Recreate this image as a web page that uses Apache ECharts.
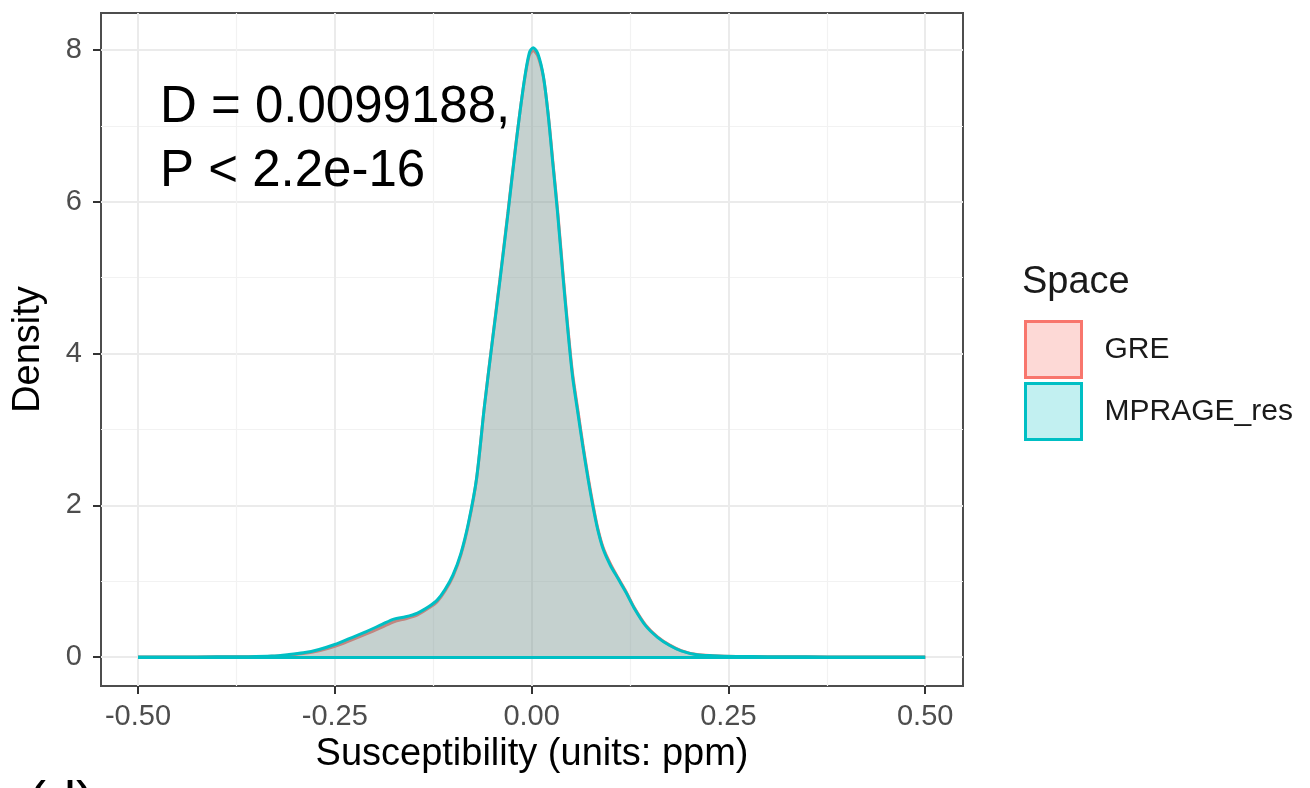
<!DOCTYPE html>
<html><head><meta charset="utf-8">
<script src="https://cdn.jsdelivr.net/npm/echarts@6/dist/echarts.min.js"></script>
<style>html,body{margin:0;padding:0;background:#fff}#c{width:1310px;height:788px}</style>
</head><body><div id="c"></div>
<script>
// Susceptibility values (x) at which the density curves were read
const susceptibility = [
  -0.50, -0.45, -0.40, -0.36, -0.33, -0.31, -0.29, -0.27, -0.25, -0.23,
  -0.21, -0.19, -0.175, -0.16, -0.145, -0.13, -0.12, -0.11, -0.10, -0.09,
  -0.08, -0.07, -0.06, -0.05, -0.04, -0.03, -0.02, -0.01, -0.003, 0.002,
  0.008, 0.015, 0.021, 0.027, 0.033, 0.04, 0.046, 0.052, 0.059, 0.065,
  0.072, 0.078, 0.084, 0.091, 0.10, 0.11, 0.12, 0.13, 0.145, 0.16,
  0.175, 0.19, 0.21, 0.23, 0.26, 0.30, 0.35, 0.40, 0.45, 0.50
];
const densityGRE = [
  0.000, 0.001, 0.002, 0.004, 0.010, 0.024, 0.045, 0.082, 0.140, 0.220,
  0.305, 0.395, 0.465, 0.505, 0.555, 0.650, 0.730, 0.870, 1.060, 1.340,
  1.760, 2.340, 3.300, 4.160, 5.000, 5.870, 6.760, 7.540, 7.930, 7.990,
  7.920, 7.640, 7.160, 6.530, 5.890, 5.040, 4.350, 3.740, 3.240, 2.810,
  2.360, 2.010, 1.700, 1.440, 1.230, 1.040, 0.860, 0.660, 0.420, 0.265,
  0.160, 0.085, 0.032, 0.018, 0.008, 0.004, 0.002, 0.001, 0.001, 0.000
];
const densityMPRAGE = [
  0.000, 0.001, 0.002, 0.004, 0.012, 0.030, 0.055, 0.100, 0.165, 0.250,
  0.335, 0.430, 0.500, 0.530, 0.580, 0.670, 0.750, 0.890, 1.080, 1.360,
  1.780, 2.350, 3.300, 4.150, 4.980, 5.850, 6.750, 7.550, 7.960, 8.030,
  7.950, 7.650, 7.150, 6.500, 5.850, 5.000, 4.310, 3.700, 3.200, 2.780,
  2.330, 1.980, 1.680, 1.420, 1.210, 1.030, 0.850, 0.650, 0.410, 0.260,
  0.155, 0.082, 0.030, 0.017, 0.008, 0.004, 0.002, 0.001, 0.001, 0.000
];
const seriesNames = ['GRE', 'MPRAGE_res'];
const xTickValues = [-0.5, -0.25, 0, 0.25, 0.5];
const xMinorValues = [-0.375, -0.125, 0.125, 0.375];
const yTickValues = [0, 2, 4, 6, 8];
const yMinorValues = [1, 3, 5, 7];
const xTitle = 'Susceptibility (units: ppm)';
const yTitle = 'Density';
const legendTitle = 'Space';
const annotation = 'D = 0.0099188,\nP < 2.2e-16';
const panelTag = '(d)';

const FONT = '"Liberation Sans", Arial, Helvetica, sans-serif';
const X_MIN = -0.547, X_MAX = 0.548, Y_MIN = -0.382, Y_MAX = 8.488;
const colors = ['#F8766D', '#00BFC4'];
const fillOpacity = [0.30, 0.22];
const legendFills = ['rgba(248,118,109,0.28)', 'rgba(0,191,196,0.24)'];

function pairs(xs, ys) { return xs.map((x, i) => [x, ys[i]]); }
const seriesData = [pairs(susceptibility, densityGRE), pairs(susceptibility, densityMPRAGE)];

const chart = echarts.init(document.getElementById('c'), null, {renderer: 'canvas'});
const option = {
  animation: false,
  backgroundColor: '#ffffff',
  textStyle: {fontFamily: FONT},
  grid: {left: 101, top: 13, width: 862, height: 673, show: true,
         borderColor: '#4d4d4d', borderWidth: 2, backgroundColor: 'transparent'},
  xAxis: [
    {type: 'value', min: X_MIN, max: X_MAX, gridIndex: 0, position: 'bottom',
     name: xTitle, nameLocation: 'middle', nameGap: 44,
     nameTextStyle: {fontSize: 38, color: '#000', fontFamily: FONT},
     axisLine: {show: false, onZero: false},
     axisTick: {show: true, length: 8, customValues: xTickValues, lineStyle: {color: '#333', width: 2}},
     axisLabel: {customValues: xTickValues, margin: 16, fontSize: 29, color: '#4d4d4d', fontFamily: FONT,
                 formatter: v => v.toFixed(2)},
     splitLine: {show: true, lineStyle: {color: '#ebebeb', width: 2}}},
    {type: 'value', min: X_MIN, max: X_MAX, gridIndex: 0, position: 'bottom',
     axisLine: {show: false, onZero: false}, axisLabel: {show: false},
     axisTick: {show: false, customValues: xMinorValues},
     splitLine: {show: true, lineStyle: {color: '#f2f2f2', width: 1.2}}}
  ],
  yAxis: [
    {type: 'value', min: Y_MIN, max: Y_MAX, gridIndex: 0, position: 'left',
     name: yTitle, nameLocation: 'middle', nameGap: 53,
     nameTextStyle: {fontSize: 38, color: '#000', fontFamily: FONT},
     axisLine: {show: false, onZero: false},
     axisTick: {show: true, length: 8, customValues: yTickValues, lineStyle: {color: '#333', width: 2}},
     axisLabel: {customValues: yTickValues, margin: 19, fontSize: 29, color: '#4d4d4d', fontFamily: FONT,
                 formatter: v => String(Math.round(v))},
     splitLine: {show: true, lineStyle: {color: '#ebebeb', width: 2}}},
    {type: 'value', min: Y_MIN, max: Y_MAX, gridIndex: 0, position: 'left',
     axisLine: {show: false, onZero: false}, axisLabel: {show: false},
     axisTick: {show: false, customValues: yMinorValues},
     splitLine: {show: true, lineStyle: {color: '#f2f2f2', width: 1.2}}}
  ],
  legend: {
    orient: 'vertical', left: 1024, top: 320, padding: 0,
    itemWidth: 56, itemHeight: 56, itemGap: 3,
    icon: 'rect', selectedMode: false,
    textStyle: {fontSize: 30, color: '#1a1a1a', fontFamily: FONT, padding: [6, 0, 0, 18]},
    data: seriesNames.map((n, i) => ({name: n, icon: 'rect',
      itemStyle: {color: legendFills[i], borderColor: colors[i], borderWidth: 3}}))
  },
  series: seriesNames.map((n, i) => ({
    name: n, type: 'line', xAxisIndex: 0, yAxisIndex: 0,
    data: seriesData[i], smooth: 0.3,
    showSymbol: false, symbol: 'none', z: 2 + i,
    itemStyle: {color: colors[i]},
    lineStyle: {color: colors[i], width: 3},
    areaStyle: {color: colors[i], opacity: fillOpacity[i], origin: 'auto'},
    markLine: {silent: true, symbol: 'none', label: {show: false},
      lineStyle: {color: colors[i], width: 3, type: 'solid'},
      data: [[{coord: [susceptibility[0], 0]}, {coord: [susceptibility[susceptibility.length - 1], 0]}]]}
  })),
  graphic: [
    {type: 'text', left: 160, top: 76, silent: true, z: 10,
     style: {text: annotation, fontSize: 51, lineHeight: 64, fill: '#000', fontFamily: FONT}},
    {type: 'text', left: 1022, top: 264, silent: true,
     style: {text: legendTitle, fontSize: 38, fill: '#1a1a1a', fontFamily: FONT}},
    {type: 'text', left: 28, top: 777, silent: true,
     style: {text: panelTag, fontSize: 54, fill: '#000', fontFamily: FONT}}
  ]
};
chart.setOption(option);
</script>
</body></html>
